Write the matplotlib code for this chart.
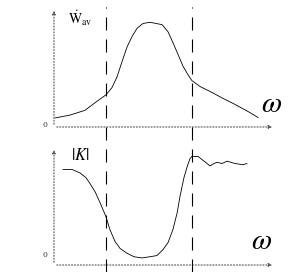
from matplotlib import pyplot as plt

plt.rcParams["mathtext.fontset"] = "stix"

# ----------------------------------------
# Data (omega in arbitrary units, 0..10)
# ----------------------------------------
w_top = [0.05, 0.72, 1.40, 1.90, 2.35, 2.62, 2.85, 3.08, 3.30, 3.53, 3.76,
         4.03, 4.34, 4.62, 4.89, 5.16, 5.38, 5.61, 5.84, 6.06, 6.24, 6.61,
         7.15, 7.65, 8.19, 8.78, 9.23]
wav_top = [0.076, 0.10, 0.14, 0.21, 0.27, 0.33, 0.42, 0.55, 0.67, 0.76, 0.83,
           0.87, 0.88, 0.87, 0.86, 0.80, 0.71, 0.61, 0.51, 0.44, 0.39, 0.34,
           0.29, 0.24, 0.19, 0.13, 0.08]

w_bot = [0.41, 0.81, 1.18, 1.45, 1.63, 1.86, 2.08, 2.35, 2.53, 2.76, 2.99,
         3.30, 3.62, 3.98, 4.34, 4.66, 4.93, 5.16, 5.38, 5.57, 5.70, 5.88,
         6.02, 6.15, 6.24, 6.52, 6.79, 7.06, 7.24, 7.38, 7.60, 7.83, 8.19,
         8.55, 8.73]
k_bot = [0.81, 0.81, 0.78, 0.74, 0.69, 0.62, 0.53, 0.41, 0.30, 0.20, 0.14,
         0.10, 0.07, 0.06, 0.07, 0.08, 0.13, 0.19, 0.30, 0.44, 0.58, 0.74,
         0.83, 0.90, 0.92, 0.92, 0.88, 0.84, 0.86, 0.87, 0.86, 0.88, 0.86,
         0.85, 0.86]

cutoffs = [2.35, 6.24]

W = 288.0
H = 272.0
fig = plt.figure(figsize=(2.88, 2.72), dpi=100)


def make_axes(top_px, bottom_px, zero_y):
    ax = fig.add_axes([54 / W, 1 - bottom_px / H, 221 / W,
                       (bottom_px - top_px) / H])
    ax.set_xlim(0, 10)
    ax.set_ylim(0, 1)
    for s in ax.spines.values():
        s.set_visible(False)
    ax.set_xticks([])
    ax.set_yticks([])
    ax.patch.set_alpha(0)
    # dotted axes with arrow heads
    ax.annotate("", xy=(1.0, 0), xytext=(0, 0), xycoords="axes fraction",
                arrowprops=dict(arrowstyle="-|>", lw=0.8, color="#555555",
                                linestyle=":", mutation_scale=5))
    ax.annotate("", xy=(0, 1.0), xytext=(0, 0), xycoords="axes fraction",
                arrowprops=dict(arrowstyle="-|>", lw=0.8, color="#555555",
                                linestyle=":", mutation_scale=5))
    ax.text(-0.03, zero_y, "0", transform=ax.transAxes, ha="right",
            va="center", fontsize=5.5, family="DejaVu Serif", color="#333333")
    return ax


# ----------------------------------------
# Top panel: W_av
# ----------------------------------------
ax1 = make_axes(8, 127, 0.02)
ax1.plot(w_top, wav_top, color="black", lw=0.6)
ax1.text(0.065, 0.86, r"$\dot{\mathrm{W}}_{\mathrm{av}}$",
         transform=ax1.transAxes, fontsize=10)
ax1.text(207 / 221, 0.19, r"$\omega$", transform=ax1.transAxes, fontsize=21,
         va="center", ha="left")

# ----------------------------------------
# Bottom panel: |K|
# ----------------------------------------
ax2 = make_axes(147, 265, 0.085)
ax2.plot(w_bot, k_bot, color="black", lw=0.6)
ax2.text(0.075, 0.93, r"$|K|$", transform=ax2.transAxes, fontsize=12,
         va="center")
ax2.text(197 / 221, 0.20, r"$\omega$", transform=ax2.transAxes, fontsize=21,
         va="center", ha="left")

# ----------------------------------------
# Dashed cut-off lines across both panels
# ----------------------------------------
ax3 = fig.add_axes([54 / W, 0, 221 / W, 1 - 7 / H])
ax3.set_xlim(0, 10)
ax3.set_ylim(0, 1)
ax3.axis("off")
for c in cutoffs:
    ax3.axvline(c, color="black", lw=0.8, dashes=(11.7, 8.1))

fig.savefig("out.png", dpi=100)
